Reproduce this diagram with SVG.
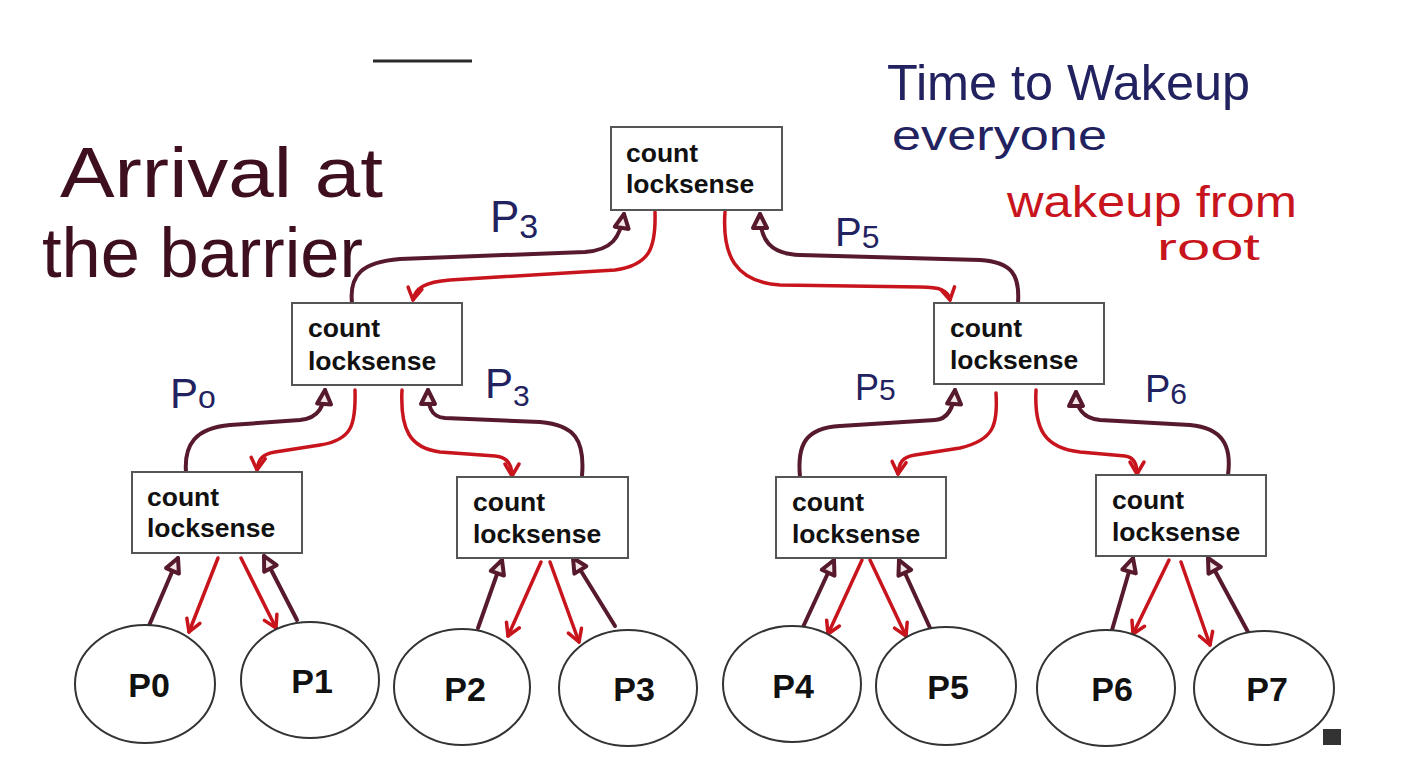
<svg xmlns="http://www.w3.org/2000/svg" width="1406" height="761" viewBox="0 0 1406 761">
<style>
.box{fill:#fff;stroke:#555;stroke-width:2}
.bt{font-family:"Liberation Sans",Arial,sans-serif;font-weight:bold;font-size:26.5px;fill:#111}
.circ{fill:#fff;stroke:#333;stroke-width:2}
.ct{font-family:"Liberation Sans",Arial,sans-serif;font-weight:bold;font-size:34px;fill:#111;text-anchor:middle}
.up{fill:none;stroke:#561a2c;stroke-width:4;stroke-linecap:round;marker-end:url(#hd)}
.dn{fill:none;stroke:#c8141c;stroke-width:3.5;stroke-linecap:round;marker-end:url(#hr)}
.hw{font-family:"Liberation Sans",Arial,sans-serif;font-weight:normal}
.mar{fill:#3e0f1e}
.nav{fill:#222260}
.red{fill:#c8141c}
</style>
<defs>
<marker id="hd" markerUnits="userSpaceOnUse" markerWidth="22" markerHeight="22" viewBox="0 0 22 22" refX="18" refY="11" orient="auto">
<path d="M4,4 L18,11 L4,18 Z" fill="#f2e6e9" stroke="#561a2c" stroke-width="4" stroke-linejoin="round"/>
</marker>
<marker id="hr" markerUnits="userSpaceOnUse" markerWidth="20" markerHeight="20" viewBox="0 0 20 20" refX="16" refY="10" orient="auto">
<path d="M4,3 L16,10 L4,17" fill="none" stroke="#c8141c" stroke-width="3.5" stroke-linejoin="round" stroke-linecap="round"/>
</marker>
</defs>
<rect width="1406" height="761" fill="#fff"/>
<line x1="373" y1="61" x2="472" y2="61" stroke="#2a2a2a" stroke-width="3"/>

<g id="annotations" class="hw">
<text class="mar" x="60" y="197" font-size="70" textLength="323" lengthAdjust="spacingAndGlyphs">Arrival at</text>
<text class="mar" x="42" y="277" font-size="70" textLength="321" lengthAdjust="spacingAndGlyphs">the barrier</text>
<text class="nav" x="887" y="100" font-size="50" textLength="363" lengthAdjust="spacingAndGlyphs">Time to Wakeup</text>
<text class="nav" x="892" y="150" font-size="42" textLength="215" lengthAdjust="spacingAndGlyphs">everyone</text>
<text class="red" x="1007" y="217" font-size="44" textLength="290" lengthAdjust="spacingAndGlyphs">wakeup from</text>
<text class="red" x="1157" y="260" font-size="36" textLength="103" lengthAdjust="spacingAndGlyphs">root</text>
<text class="nav" x="490" y="232" font-size="44">P<tspan font-size="34" dy="6">3</tspan></text>
<text class="nav" x="835" y="246" font-size="40">P<tspan font-size="32" dy="2">5</tspan></text>
<text class="nav" x="170" y="408" font-size="42">P<tspan font-size="32" dy="0">o</tspan></text>
<text class="nav" x="485" y="398" font-size="42">P<tspan font-size="30" dy="8">3</tspan></text>
<text class="nav" x="855" y="400" font-size="36">P<tspan font-size="30" dy="0">5</tspan></text>
<text class="nav" x="1145" y="402" font-size="38">P<tspan font-size="30" dy="2">6</tspan></text>
</g>

<g id="connectors">
<path class="up" d="M352,303 C349,275 362,262 400,259 L585,252 C612,250 620,238 624,214"/>
<path class="dn" d="M655,212 C656,248 650,265 615,270 L450,280 C425,282 415,288 413,300"/>
<path class="dn" d="M725,212 C722,255 735,282 780,285 L920,287 C940,287 948,290 950,300"/>
<path class="up" d="M1018,303 C1020,275 1012,262 980,260 L800,255 C770,254 760,240 760,214"/>

<path class="up" d="M186,472 C184,445 195,428 230,425 L300,420 C320,418 324,405 325,390"/>
<path class="dn" d="M355,390 C356,425 352,440 320,445 L275,452 C262,454 258,460 257,470"/>
<path class="dn" d="M402,390 C400,430 410,448 440,452 L495,456 C508,457 512,465 512,476"/>
<path class="up" d="M582,476 C585,440 575,425 540,422 L445,418 C430,417 428,405 428,390"/>

<path class="up" d="M800,477 C797,445 805,428 840,426 L935,420 C950,419 954,405 955,390"/>
<path class="dn" d="M996,393 C998,425 994,440 960,448 L915,455 C902,457 899,463 898,474"/>
<path class="dn" d="M1036,390 C1034,430 1045,448 1080,452 L1125,456 C1134,457 1137,465 1137,474"/>
<path class="up" d="M1228,475 C1232,445 1222,428 1190,425 L1100,420 C1080,418 1076,405 1076,392"/>

<path class="up" d="M148,628 L178,558"/>
<path class="dn" d="M218,558 L189,632"/>
<path class="dn" d="M241,558 L276,628"/>
<path class="up" d="M297,620 L264,556"/>

<path class="up" d="M478,628 L502,560"/>
<path class="dn" d="M541,562 L508,636"/>
<path class="dn" d="M550,562 L579,642"/>
<path class="up" d="M615,626 L573,558"/>

<path class="up" d="M803,627 L834,560"/>
<path class="dn" d="M862,560 L828,634"/>
<path class="dn" d="M870,560 L906,636"/>
<path class="up" d="M931,630 L899,560"/>

<path class="up" d="M1112,630 L1133,558"/>
<path class="dn" d="M1169,560 L1133,634"/>
<path class="dn" d="M1181,562 L1210,645"/>
<path class="up" d="M1248,632 L1208,558"/>
</g>

<g id="root"><rect class="box" x="611" y="127" width="171" height="83"/><text class="bt" x="626" y="162">count</text><text class="bt" x="626" y="193">locksense</text></g>
<g id="mid-left"><rect class="box" x="292" y="303" width="170" height="82"/><text class="bt" x="308" y="337">count</text><text class="bt" x="308" y="370">locksense</text></g>
<g id="mid-right"><rect class="box" x="934" y="303" width="170" height="81"/><text class="bt" x="950" y="337">count</text><text class="bt" x="950" y="369">locksense</text></g>
<g id="leaf-1"><rect class="box" x="132" y="472" width="170" height="81"/><text class="bt" x="147" y="506">count</text><text class="bt" x="147" y="537">locksense</text></g>
<g id="leaf-2"><rect class="box" x="457" y="477" width="171" height="81"/><text class="bt" x="473" y="511">count</text><text class="bt" x="473" y="543">locksense</text></g>
<g id="leaf-3"><rect class="box" x="776" y="477" width="170" height="81"/><text class="bt" x="792" y="511">count</text><text class="bt" x="792" y="543">locksense</text></g>
<g id="leaf-4"><rect class="box" x="1096" y="475" width="170" height="81"/><text class="bt" x="1112" y="509">count</text><text class="bt" x="1112" y="541">locksense</text></g>

<g id="p0"><ellipse class="circ" cx="145" cy="684" rx="70" ry="59"/><text class="ct" x="149" y="697">P0</text></g>
<g id="p1"><ellipse class="circ" cx="310" cy="680" rx="69" ry="58"/><text class="ct" x="312" y="693">P1</text></g>
<g id="p2"><ellipse class="circ" cx="462" cy="687" rx="68" ry="58"/><text class="ct" x="465" y="701">P2</text></g>
<g id="p3"><ellipse class="circ" cx="628" cy="688" rx="69" ry="58"/><text class="ct" x="634" y="701">P3</text></g>
<g id="p4"><ellipse class="circ" cx="792" cy="684" rx="69" ry="58"/><text class="ct" x="793" y="698">P4</text></g>
<g id="p5"><ellipse class="circ" cx="946" cy="686" rx="70" ry="59"/><text class="ct" x="948" y="699">P5</text></g>
<g id="p6"><ellipse class="circ" cx="1106" cy="688" rx="69" ry="58"/><text class="ct" x="1112" y="701">P6</text></g>
<g id="p7"><ellipse class="circ" cx="1264" cy="688" rx="70" ry="57"/><text class="ct" x="1267" y="701">P7</text></g>

<rect x="1323" y="729" width="18" height="16" fill="#333"/>
</svg>
